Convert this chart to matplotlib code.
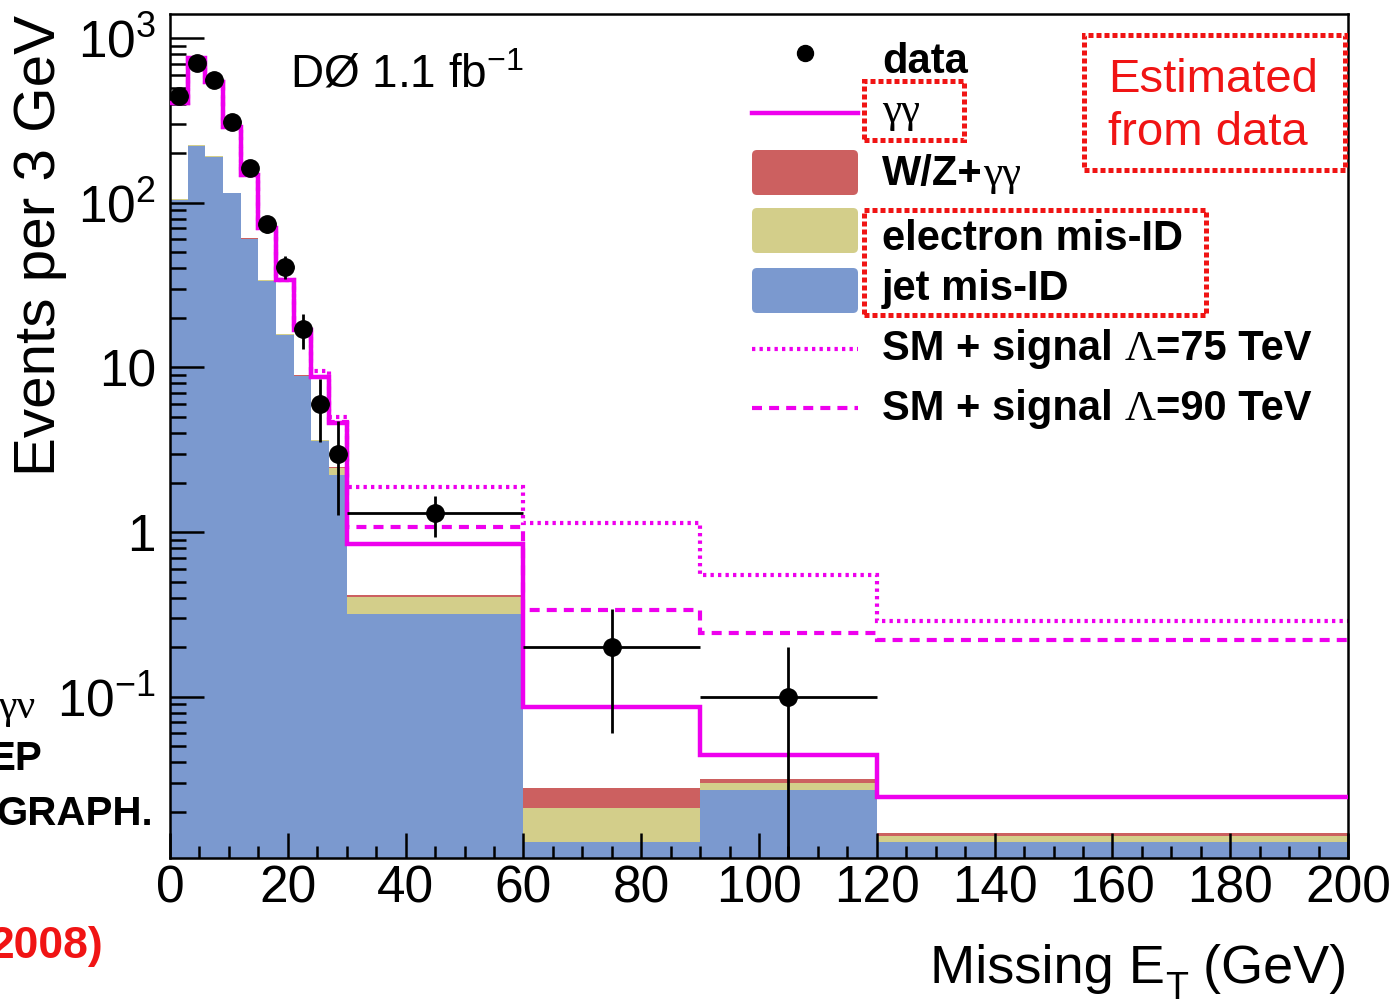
import numpy as np
import matplotlib.pyplot as plt
from matplotlib.lines import Line2D
from matplotlib.patches import Rectangle, FancyBboxPatch
from matplotlib.ticker import (MultipleLocator, FixedLocator, FixedFormatter,
                               LogLocator, NullFormatter)
from matplotlib.transforms import IdentityTransform

W, H = 1394, 1006

# bin edges (GeV): 3 GeV bins up to 30, then wide bins
edges = [0, 3, 6, 9, 12, 15, 18, 21, 24, 27, 30, 60, 90, 120, 200]

# events per 3 GeV, one entry per bin
jet_misid = [104, 221, 190, 114, 60, 33.6, 15.7, 8.85, 3.57, 2.22, 0.318, 0.0131, 0.027, 0.0132]
ele_misid = [1.0, 2.0, 2.0, 1.0, 0.6, 0.3, 0.15, 0.08, 0.05, 0.24, 0.087, 0.0081, 0.003, 0.0010]
wz_gg     = [0.3, 0.5, 0.5, 0.3, 0.2, 0.1, 0.05, 0.02, 0.01, 0.01, 0.009, 0.0066, 0.0015, 0.0006]
sm_total  = [402, 752, 542, 289, 147, 69.8, 33.9, 16.8, 8.77, 4.57, 0.85, 0.087, 0.0443, 0.0247]
sig_75    = [402, 752, 542, 289, 147, 69.8, 33.9, 16.9, 9.5, 5.0, 1.88, 1.13, 0.548, 0.288]
sig_90    = [402, 752, 542, 289, 147, 69.8, 33.9, 16.8, 8.8, 4.65, 1.08, 0.336, 0.243, 0.221]

# data (no events above 120 GeV)
data      = [444, 704, 555, 308, 162, 74, 41, 17, 6.0, 3.0, 1.3, 0.2, 0.1]
data_err  = [21, 26.5, 23.5, 17.5, 12.7, 8.6, 6.4, 4.1, 2.45, 1.73, 0.36, 0.14, 0.1]

ytick_vals = [0.1, 1, 10, 100, 1000]
ytick_labels = [r'$\mathregular{10^{-1}}$', '1', '10',
                r'$\mathregular{10^{2}}$', r'$\mathregular{10^{3}}$']

c_jet = '#7b99cf'
c_ele = '#d3ce8a'
c_wz = '#cc6060'
magenta = '#ee00ee'
red = '#f01414'

plt.rcParams['font.family'] = 'Liberation Sans'
plt.rcParams['mathtext.fontset'] = 'custom'
plt.rcParams['mathtext.rm'] = 'Liberation Sans'
plt.rcParams['mathtext.it'] = 'Liberation Sans:italic'
plt.rcParams['mathtext.bf'] = 'Liberation Sans:bold'

fig = plt.figure(figsize=(W / 100, H / 100), dpi=100)
ax = fig.add_axes([170 / W, 1 - 858 / H, (1348 - 170) / W, (858 - 14) / H])
ax.set_yscale('log', nonpositive='clip')

e = np.array(edges, float)
jet = np.array(jet_misid)
ele = np.array(ele_misid)
wz = np.array(wz_gg)

# stacked backgrounds
ax.stairs(jet, e, baseline=1e-4, fill=True, color=c_jet, lw=0, zorder=1)
ax.stairs(jet + ele, e, baseline=jet, fill=True, color=c_ele, lw=0, zorder=1)
ax.stairs(jet + ele + wz, e, baseline=jet + ele, fill=True, color=c_wz, lw=0, zorder=1)

# SM + signal and total SM lines
ax.stairs(sig_75, e, baseline=None, color=magenta, lw=3.0,
          linestyle=(0, (0.8, 1.0)), zorder=2)
ax.stairs(sig_90, e, baseline=None, color=magenta, lw=3.0,
          linestyle=(0, (2.4, 1.7)), zorder=2)
ax.stairs(sm_total, e, baseline=None, color=magenta, lw=3.2, zorder=3)

centres = 0.5 * (e[:-1] + e[1:])[:len(data)]
halfw = 0.5 * np.diff(e)[:len(data)]
d = np.array(data)
derr = np.array(data_err)
ax.errorbar(centres, d, xerr=halfw, yerr=[derr, derr], fmt='o', color='k',
            ms=12.5, elinewidth=2.0, capsize=0, zorder=5)

ax.set_xlim(0, 200)
ax.set_ylim(0.0105, 1400)

ax.xaxis.set_major_locator(MultipleLocator(20))
ax.xaxis.set_minor_locator(MultipleLocator(5))
ax.yaxis.set_major_locator(FixedLocator(ytick_vals))
ax.yaxis.set_major_formatter(FixedFormatter(ytick_labels))
ax.yaxis.set_minor_locator(LogLocator(base=10, subs=np.arange(2, 10) * 1.0, numticks=20))
ax.yaxis.set_minor_formatter(NullFormatter())

ax.tick_params(which='both', direction='in', top=False, right=False,
               width=1.8, labelsize=37)
ax.tick_params(axis='y', which='major', length=24.5, pad=10)
ax.tick_params(axis='y', which='minor', length=11.5)
ax.tick_params(axis='x', which='major', length=18, pad=5)
ax.tick_params(axis='x', which='minor', length=8.6)
for s in ax.spines.values():
    s.set_linewidth(1.8)


def fx(x):
    return x / W


def fy(y):
    return 1 - y / H


fig.text(fx(40), fy(15), 'Events per 3 GeV', rotation=90, ha='center',
         va='top', fontsize=42)
fig.text(fx(290), fy(88), r'DØ 1.1 fb$^{\mathregular{-1}}$', ha='left',
         va='baseline', fontsize=33)

fig.canvas.draw()
renderer = fig.canvas.get_renderer()
bold = dict(fontsize=30, fontweight='bold')
serif = dict(fontsize=31, family='Liberation Serif')


def text_run(x, y, pieces):
    # pieces: (string, kwargs, baseline offset in px)
    for p in pieces:
        s, kw = p[0], p[1]
        dy = p[2] if len(p) > 2 else 0
        t = fig.text(fx(x), fy(y + dy), s, ha='left', va='baseline', **kw)
        x = t.get_window_extent(renderer).x1


# axis title with a lowered subscript
text_run(930, 983, [('Missing E', dict(fontsize=39)),
                    ('T', dict(fontsize=27), 16),
                    (' (GeV)', dict(fontsize=39))])

# legend
idt = IdentityTransform()
fig.add_artist(Line2D([805], [H - 53], marker='o', ms=11.5, color='k', transform=idt))
fig.add_artist(Line2D([752, 858], [H - 113] * 2, color=magenta, lw=3.2, transform=idt))
for y0, y1, c in [(150, 195, c_wz), (208, 253, c_ele), (268, 313, c_jet)]:
    fig.add_artist(FancyBboxPatch((752, H - y1), 106, y1 - y0,
                                  boxstyle='round,pad=0,rounding_size=5',
                                  facecolor=c, edgecolor='none', transform=idt))
fig.add_artist(Line2D([752, 858], [H - 349] * 2, color=magenta, lw=3.0,
                      linestyle=(0, (0.8, 1.0)), transform=idt))
fig.add_artist(Line2D([752, 858], [H - 408] * 2, color=magenta, lw=3.0,
                      linestyle=(0, (2.4, 1.7)), transform=idt))

text_run(882, 73, [('data', bold)])
text_run(882, 122, [('γγ', serif)])
text_run(882, 185, [('W/Z+', bold), ('γγ', serif)])
text_run(882, 250, [('electron mis-ID', bold)])
text_run(882, 300, [('jet mis-ID', bold)])
text_run(882, 360, [('SM + signal ', bold), ('Λ', serif), ('=75 TeV', bold)])
text_run(882, 420, [('SM + signal ', bold), ('Λ', serif), ('=90 TeV', bold)])

fig.text(fx(1108), fy(92), 'Estimated', color=red, fontsize=34, va='baseline')
fig.text(fx(1108), fy(145), 'from data', color=red, fontsize=34, va='baseline')

# dotted red boxes
for x0, y0, x1, y1 in [(864, 81, 964, 140), (864, 210, 1206, 315), (1084, 35, 1345, 170)]:
    fig.add_artist(Rectangle((x0, H - y1), x1 - x0, y1 - y0, fill=False,
                             edgecolor=red, lw=3.6, linestyle=(0, (1, 0.6)),
                             transform=idt))

# text running in from the left margin
fig.text(fx(35), fy(718), 'γν', ha='right', va='baseline', fontsize=30,
         family='Liberation Serif')
fig.text(fx(42), fy(770), 'EP', ha='right', va='baseline', fontsize=29,
         fontweight='bold')
fig.text(fx(153), fy(825), 'GRAPH.', ha='right', va='baseline', fontsize=29,
         fontweight='bold')
fig.text(fx(103), fy(958), '2008)', ha='right', va='baseline', fontsize=32,
         fontweight='bold', color=red)

fig.savefig('out.png', dpi=100)
